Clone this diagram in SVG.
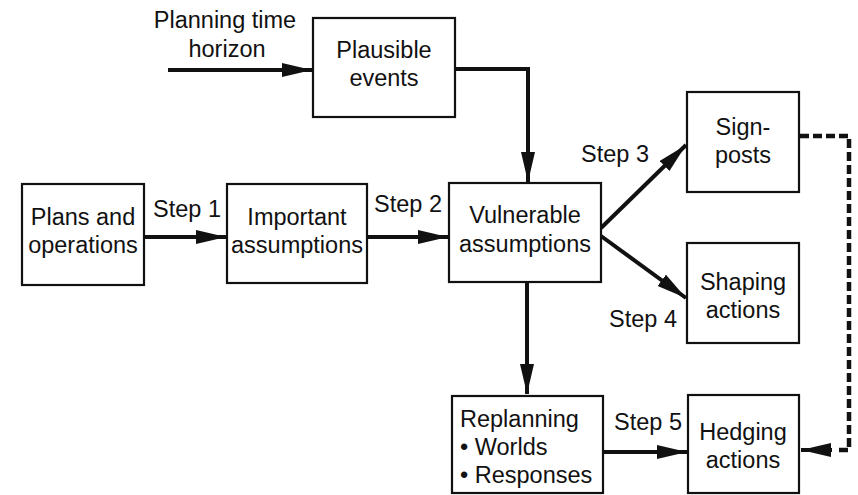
<svg xmlns="http://www.w3.org/2000/svg" width="858" height="495" viewBox="0 0 858 495">
<style>
.box{fill:#fff;stroke:#111;stroke-width:2.2}
.t{font-family:"Liberation Sans",Arial,sans-serif;font-size:23.5px;fill:#111}
.c{text-anchor:middle}
.ln{fill:none;stroke:#111;stroke-width:4}
.dash{fill:none;stroke:#111;stroke-width:4.5;stroke-dasharray:9 4}
</style>
<defs>
<marker id="ah" markerUnits="userSpaceOnUse" markerWidth="32" markerHeight="16" refX="30" refY="7" orient="auto">
<path d="M0,0 L30,7 L0,14 z" fill="#111"/>
</marker>
</defs>
<rect width="858" height="495" fill="#fff"/>
<g id="connectors">
<path class="ln" d="M168,70 H312" marker-end="url(#ah)"/>
<path class="ln" d="M455,69 H528 V182" marker-end="url(#ah)"/>
<path class="ln" d="M144,237 H226" marker-end="url(#ah)"/>
<path class="ln" d="M367,237 H448" marker-end="url(#ah)"/>
<path class="ln" d="M601,228 L686,145" marker-end="url(#ah)"/>
<path class="ln" d="M601,236 L686,298" marker-end="url(#ah)"/>
<path class="ln" d="M527,282 V394" marker-end="url(#ah)"/>
<path class="ln" d="M603,452 H687" marker-end="url(#ah)"/>
<path class="dash" d="M800,136 H849 V450 H836"/>
<path class="ln" d="M832,450 H801" marker-end="url(#ah)" stroke-width="3"/>
<text class="t c" x="225" y="28">Planning time</text>
<text class="t c" x="227" y="57">horizon</text>
<text class="t c" x="187" y="217">Step 1</text>
<text class="t c" x="408" y="212">Step 2</text>
<text class="t c" x="615" y="162">Step 3</text>
<text class="t c" x="643" y="327">Step 4</text>
<text class="t c" x="648" y="430">Step 5</text>
</g>
<g id="plausible">
<rect class="box" x="313" y="18" width="142" height="99"/>
<text class="t c" x="384" y="58">Plausible</text>
<text class="t c" x="384" y="86">events</text>
</g>
<g id="plans">
<rect class="box" x="22" y="184" width="122" height="101"/>
<text class="t c" x="83" y="225">Plans and</text>
<text class="t c" x="83" y="253">operations</text>
</g>
<g id="important">
<rect class="box" x="227" y="184" width="140" height="99"/>
<text class="t c" x="297" y="225">Important</text>
<text class="t c" x="297" y="253">assumptions</text>
</g>
<g id="vulnerable">
<rect class="box" x="449" y="183" width="152" height="99"/>
<text class="t c" x="525" y="223">Vulnerable</text>
<text class="t c" x="525" y="252">assumptions</text>
</g>
<g id="signposts">
<rect class="box" x="687" y="92" width="112" height="100"/>
<text class="t c" x="743" y="135">Sign-</text>
<text class="t c" x="743" y="163">posts</text>
</g>
<g id="shaping">
<rect class="box" x="687" y="243" width="112" height="100"/>
<text class="t c" x="743" y="290">Shaping</text>
<text class="t c" x="743" y="318">actions</text>
</g>
<g id="replanning">
<rect class="box" x="452" y="396" width="151" height="97"/>
<text class="t" x="460" y="427">Replanning</text>
<text class="t" x="460" y="455">• Worlds</text>
<text class="t" x="460" y="483">• Responses</text>
</g>
<g id="hedging">
<rect class="box" x="688" y="395" width="111" height="98"/>
<text class="t c" x="743" y="440">Hedging</text>
<text class="t c" x="743" y="468">actions</text>
</g>
</svg>
